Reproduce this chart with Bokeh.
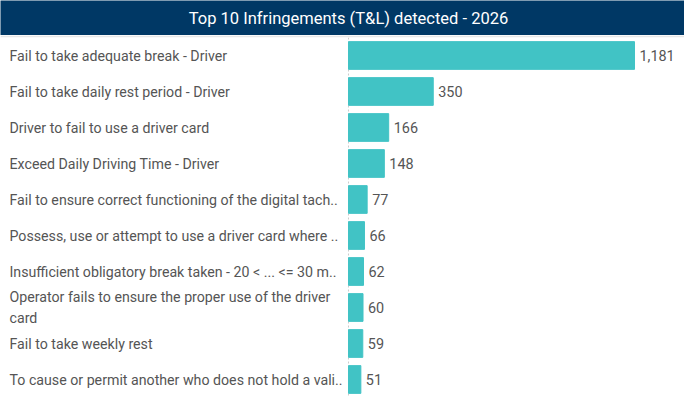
from bokeh.plotting import figure
from bokeh.models import Range1d, FactorRange, Span, Label
from bokeh.layouts import column
from bokeh.embed import file_html
from bokeh.resources import INLINE
from bokeh.core.properties import value

title_text = "Top 10 Infringements (T&L) detected - 2026"
categories = [
    "Fail to take adequate break - Driver",
    "Fail to take daily rest period - Driver",
    "Driver to fail to use a driver card",
    "Exceed Daily Driving Time - Driver",
    "Fail to ensure correct functioning of the digital tach..",
    "Possess, use or attempt to use a driver card where ..",
    "Insufficient obligatory break taken - 20 < ... <= 30 m..",
    "Operator fails to ensure the proper use of the driver\ncard",
    "Fail to take weekly rest",
    "To cause or permit another who does not hold a vali..",
]
counts = [1181, 350, 166, 148, 77, 66, 62, 60, 59, 51]
count_labels = [f"{c:,}" for c in counts]

W = 684
TITLE_H = 35
H = 362
ZERO_PX = 348
LABEL_PX = 9
PX_PER_UNIT = 286 / 1181

FONT = "Roboto"
TEXT_COLOR = "#555555"

# title bar
t = figure(width=W, height=TITLE_H, output_backend="svg", toolbar_location=None,
           min_border=0, outline_line_color=None,
           x_range=Range1d(0, 1), y_range=Range1d(0, 1))
t.axis.visible = False
t.grid.visible = False
t.background_fill_color = "#003865"
t.border_fill_color = "#003865"
t.add_layout(Label(x=348, y=TITLE_H / 2, x_units="screen", y_units="screen",
                   text=title_text, text_align="center", text_baseline="middle",
                   text_color="white", text_font=FONT, text_font_size="16.5px"))

# main chart
p = figure(width=W, height=H, output_backend="svg", toolbar_location=None,
           min_border=0, min_border_top=2, outline_line_color=None,
           border_fill_color="#e6e6e6", background_fill_color="white",
           y_range=FactorRange(factors=categories[::-1], range_padding=0),
           x_range=Range1d(-ZERO_PX / PX_PER_UNIT, (W - ZERO_PX) / PX_PER_UNIT))
p.axis.visible = False
p.grid.visible = False

p.add_layout(Span(location=0, dimension="height", line_color="#cccccc",
                  line_dash="2 2", line_width=1, level="underlay"))
p.hbar(y=categories, right=counts, left=0, height=0.77, color="#41C3C5")

p.text(x=[0] * len(categories), y=categories, text=categories,
       x_offset=LABEL_PX - ZERO_PX,
       text_align="left", text_baseline="middle", text_font=value(FONT),
       text_font_size="14.2px", text_color=TEXT_COLOR, text_line_height=1.3)
p.text(x=counts, y=categories, text=count_labels, x_offset=5,
       text_align="left", text_baseline="middle", text_font=value(FONT),
       text_font_size="14.4px", text_color=TEXT_COLOR)

layout = column(t, p, spacing=0)
open("out.html", "w").write(file_html(layout, INLINE))
